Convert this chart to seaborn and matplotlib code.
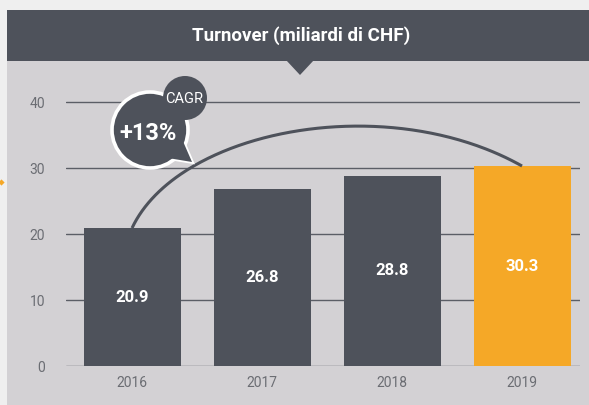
import numpy as np
import pandas as pd
import matplotlib.pyplot as plt
import seaborn as sns
from matplotlib.patches import Rectangle, Polygon, Circle

# ── Data ─────────────────────────────────────────────────────
years = ['2016', '2017', '2018', '2019']
turnover = [20.9, 26.8, 28.8, 30.3]
yticks = [0, 10, 20, 30, 40]
title = 'Turnover (miliardi di CHF)'
cagr_label = 'CAGR'
cagr_value = '+13%'

# ── Colours ──────────────────────────────────────────────────
DARK = '#4e525b'
ORANGE = '#f5a827'
PANEL = '#d3d1d4'
OUTER = '#efefef'
GRID = '#5b5e66'
TICK = '#6b6d73'

sns.set_style('white')
plt.rcParams['font.family'] = ['Roboto', 'DejaVu Sans']

W, H = 589, 405
fig = plt.figure(figsize=(W / 100, H / 100), dpi=100)
fig.patch.set_facecolor(OUTER)

# background layer in pixel coordinates (panel, header, pointer)
bg = fig.add_axes([0, 0, 1, 1], zorder=0)
bg.set_xlim(0, W); bg.set_ylim(H, 0); bg.axis('off')
bg.add_patch(Rectangle((7, 10), W - 7, H - 10, color=PANEL, lw=0))
bg.add_patch(Rectangle((7, 10), W - 7, 51, color=DARK, lw=0))
bg.add_patch(Polygon([(286, 60), (314, 60), (300, 75)], closed=True, color=DARK, lw=0))
bg.text(301, 36, title, color='white', fontsize=13.5, fontweight='bold',
        ha='center', va='center')
bg.scatter([1], [182], s=10, color=ORANGE, marker='D', lw=0)

# ── Main chart ───────────────────────────────────────────────
px_bottom, px_top = 366, 80
ax = fig.add_axes([66 / W, (H - px_bottom) / H, (580 - 66) / W, (px_bottom - px_top) / H],
                  zorder=1)
ax.patch.set_alpha(0)
df = pd.DataFrame({'year': years, 'turnover': turnover})
colors = [DARK] * (len(years) - 1) + [ORANGE]
sns.barplot(data=df, x='year', y='turnover', hue='year', palette=colors,
            legend=False, width=0.746, saturation=1, linewidth=0, ax=ax, zorder=2)
for c in ax.containers:
    ax.bar_label(c, fmt='%.1f', label_type='center', color='white',
                 fontsize=12, fontweight='bold')

ax.set_xlim(-0.508, 3.446)
ax.set_ylim(0, (px_bottom - px_top) / 6.6)
ax.set_yticks(yticks)
ax.yaxis.grid(True, color=GRID, lw=1)
ax.xaxis.grid(False)
ax.set_axisbelow(True)
for s in ax.spines.values():
    s.set_visible(False)
ax.tick_params(axis='both', length=0, colors=TICK, labelsize=10)
ax.tick_params(axis='y', pad=15)
ax.tick_params(axis='x', pad=7)
ax.set_xlabel(''); ax.set_ylabel('')

# CAGR arc: cubic bezier from first bar top to last bar top
p0 = np.array([0, turnover[0]])
p3 = np.array([len(years) - 1, turnover[-1]])
p1 = p0 + 0.75 * np.array([0.474, 19.85])
p2 = p3 - 0.8 * np.array([1.304, -14.47])
t = np.linspace(0, 1, 200)[:, None]
curve = (1 - t) ** 3 * p0 + 3 * (1 - t) ** 2 * t * p1 + 3 * (1 - t) * t ** 2 * p2 + t ** 3 * p3
ax.plot(curve[:, 0], curve[:, 1], color=DARK, lw=2.2, zorder=3, solid_capstyle='butt')

# ── Speech bubble (foreground, pixel coordinates) ─────────────
fg = fig.add_axes([0, 0, 1, 1], zorder=2)
fg.set_xlim(0, W); fg.set_ylim(H, 0); fg.axis('off')
fg.patch.set_alpha(0)
tail = [(150, 130), (182, 139), (192, 162), (168, 158)]
fg.add_patch(Polygon(tail, closed=True, facecolor=DARK, edgecolor='white', lw=2.6,
                     joinstyle='miter'))
fg.add_patch(Circle((150, 130), 38, facecolor=DARK, edgecolor='white', lw=2.6))
fg.add_patch(Polygon(tail, closed=True, facecolor=DARK, edgecolor='none', lw=0))
fg.add_patch(Circle((185, 98), 22, facecolor=DARK, edgecolor='none'))
fg.text(148, 133, cagr_value, color='white', fontsize=17, fontweight='bold',
        ha='center', va='center')
fg.text(184, 99, cagr_label, color='white', fontsize=10.5, ha='center', va='center')

fig.savefig('out.png', dpi=100)
